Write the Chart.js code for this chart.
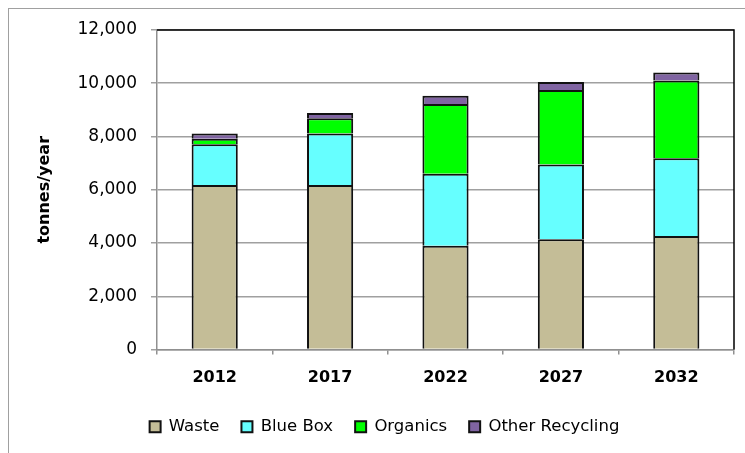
<!DOCTYPE html>
<html>
<head>
<meta charset="utf-8">
<script src="https://cdn.jsdelivr.net/npm/chart.js@4.4.1/dist/chart.umd.min.js"></script>
<style>
  html, body { margin: 0; background: #fff; overflow: hidden; }
  #wrap { position: relative; width: 745px; height: 453px; overflow: hidden; }
  #frame { position: absolute; left: 8px; top: 8px; width: 760px; height: 460px;
           border-left: 1px solid #a0a0a0; border-top: 1px solid #a0a0a0; }
  canvas { position: absolute; left: 0; top: 0; }
</style>
</head>
<body>
<div id="wrap">
  <div id="frame"></div>
  <canvas id="wasteChart" width="745" height="453"></canvas>
</div>
<script>
const years = ["2012", "2017", "2022", "2027", "2032"];
const waste = [6180, 6180, 3900, 4140, 4260];
const blueBox = [1530, 1930, 2700, 2810, 2920];
const organics = [210, 580, 2620, 2800, 2920];
const otherRecycling = [190, 190, 310, 300, 300];
const yTicks = [0, 2000, 4000, 6000, 8000, 10000, 12000];

const fontFam = "'DejaVu Sans', Verdana, sans-serif";

// black top/right edges of the plot box
const plotBox = {
  id: "plotBox",
  afterDraw(chart) {
    const { ctx, chartArea: a } = chart;
    ctx.save();
    ctx.strokeStyle = "#000";
    ctx.lineWidth = 1.5;
    ctx.beginPath();
    ctx.moveTo(a.left, a.top);
    ctx.lineTo(a.right, a.top);
    ctx.lineTo(a.right, a.bottom);
    ctx.stroke();
    ctx.restore();
  },
};

function series(label, data, color) {
  return {
    label: label,
    data: data,
    backgroundColor: color,
    borderColor: "#111",
    borderWidth: 2,
    barPercentage: 0.4,
    categoryPercentage: 1.0,
  };
}

const ctx = document.getElementById("wasteChart").getContext("2d");
const wasteChart = new Chart(ctx, {
  type: "bar",
  data: {
    labels: years,
    datasets: [
      series("Waste", waste, "#C4BD97"),
      series("Blue Box", blueBox, "#66FFFF"),
      series("Organics", organics, "#00FF00"),
      series("Other Recycling", otherRecycling, "#8064A2"),
    ],
  },
  options: {
    responsive: false,
    animation: false,
    layout: {
      padding: { left: 35, right: 11, top: 30, bottom: 8 },
    },
    scales: {
      y: {
        stacked: true,
        min: 0,
        max: 12000,
        afterBuildTicks: (scale) => {
          scale.ticks = yTicks.map((v) => ({ value: v }));
        },
        afterFit: (scale) => {
          scale.width = 122;
        },
        ticks: {
          color: "#000",
          padding: 14,
          font: { family: fontFam, size: 17 },
          callback: (value) => value.toLocaleString("en-US"),
        },
        grid: {
          color: "#a0a0a0",
          lineWidth: 1.5,
          tickLength: 6,
        },
        border: { color: "#909090", width: 1.5 },
        title: {
          display: true,
          text: "tonnes/year",
          color: "#000",
          padding: 0,
          font: { family: fontFam, size: 16, weight: "bold" },
        },
      },
      x: {
        stacked: true,
        afterFit: (scale) => {
          scale.height = 47;
        },
        ticks: {
          color: "#000",
          padding: 14,
          font: { family: fontFam, size: 16, weight: "bold" },
        },
        grid: {
          offset: true,
          drawOnChartArea: false,
          drawTicks: true,
          tickLength: 5,
          color: "#909090",
          lineWidth: 1.5,
        },
        border: { color: "#909090", width: 1.5 },
      },
    },
    plugins: {
      legend: {
        position: "bottom",
        labels: {
          color: "#000",
          boxWidth: 11,
          boxHeight: 11,
          padding: 22,
          font: { family: fontFam, size: 16.5 },
        },
      },
      tooltip: { enabled: false },
    },
  },
  plugins: [plotBox],
});
</script>
</body>
</html>
